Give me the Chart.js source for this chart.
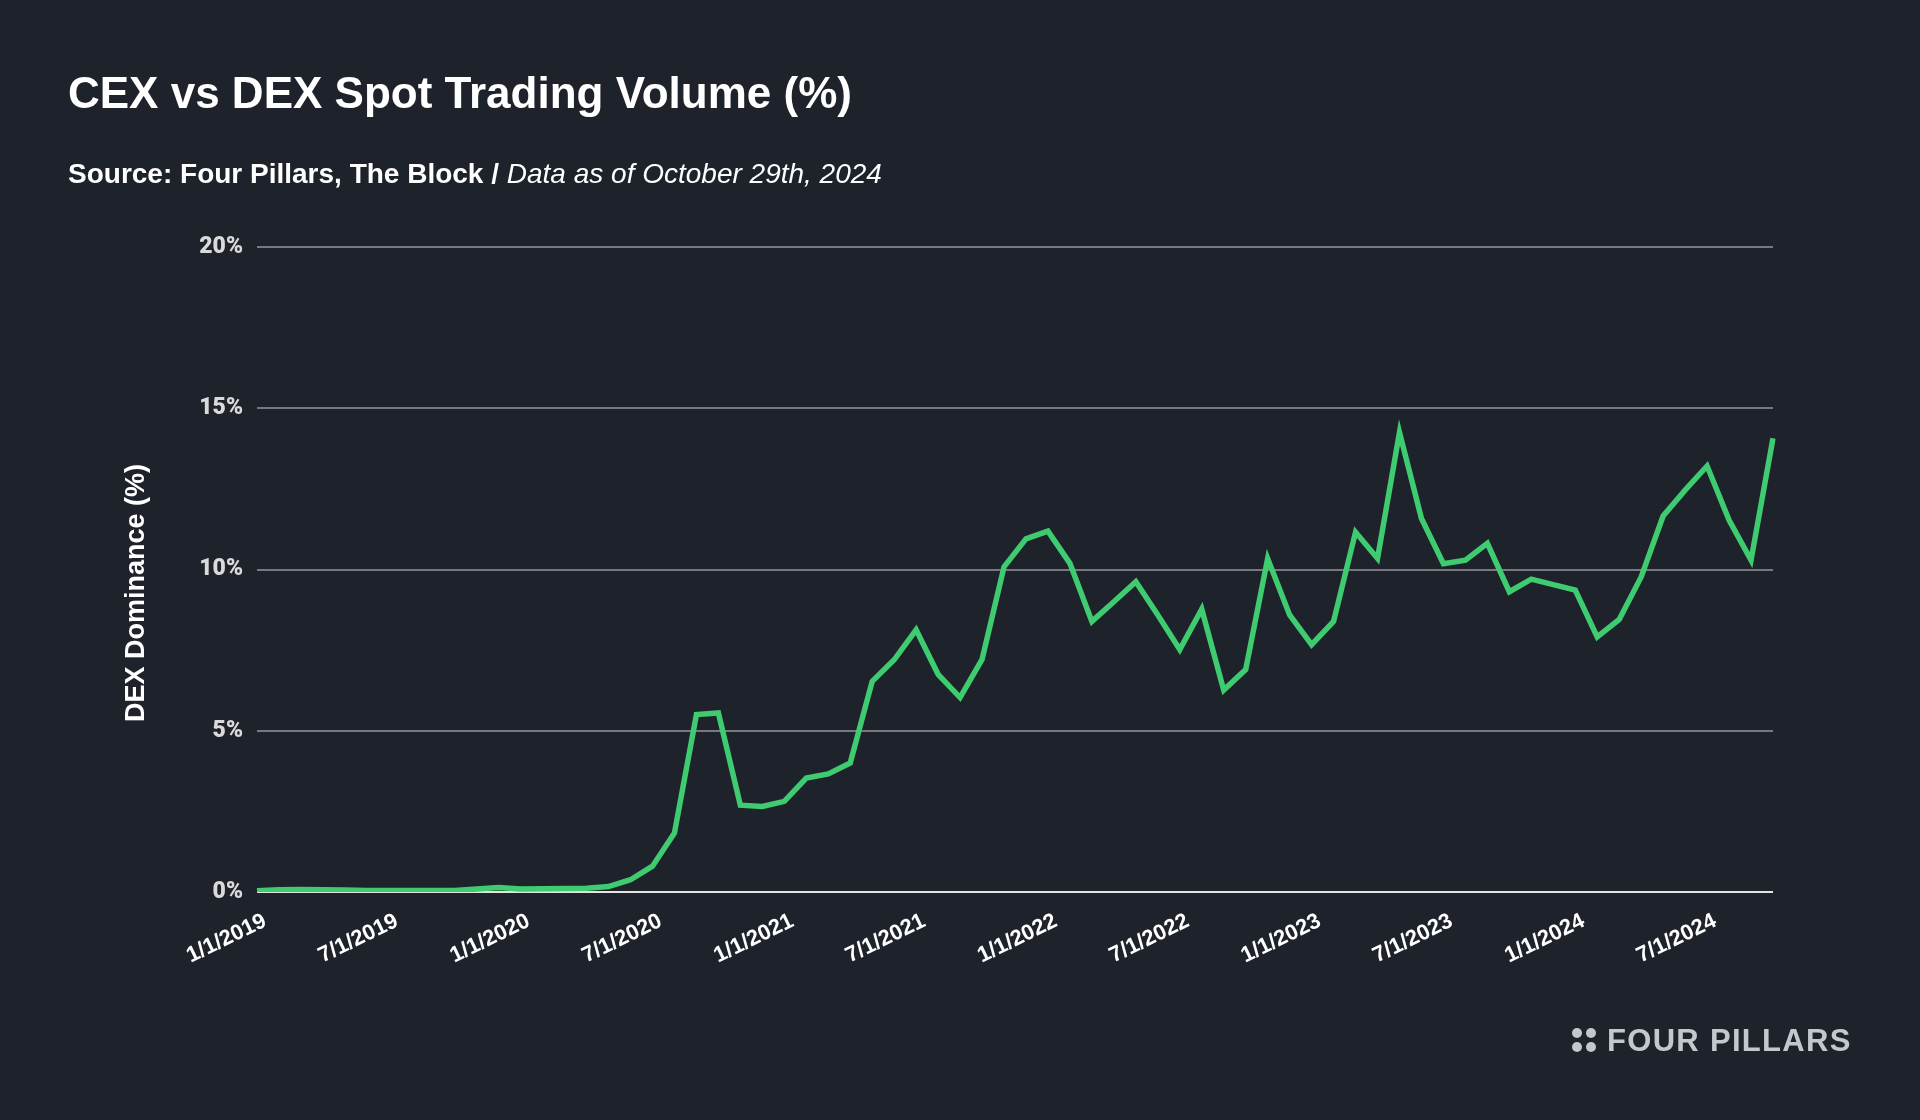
<!DOCTYPE html>
<html>
<head>
<meta charset="utf-8">
<script src="https://cdn.jsdelivr.net/npm/chart.js@4/dist/chart.umd.min.js"></script>
<style>
  html, body { margin: 0; padding: 0; background: #1e222b; }
  body { width: 1920px; height: 1120px; position: relative; overflow: hidden; font-family: "Liberation Sans", Arial, sans-serif; }
  #chart { position: absolute; left: 0; top: 0; }
  .title { position: absolute; left: 68px; top: 67px; color: #fff; font-weight: bold; font-size: 44px; line-height: 52px; white-space: nowrap; }
  .subtitle { position: absolute; left: 68px; top: 158px; color: #fff; font-size: 28px; line-height: 32px; white-space: nowrap; }
  .subtitle b { font-weight: bold; }
  .subtitle i { font-style: italic; }
  .logo { position: absolute; left: 1572px; top: 1021px; height: 40px; color: #c4c7cc; font-weight: bold; font-size: 31px; letter-spacing: 1.3px; line-height: 40px; white-space: nowrap; }
  .dots { position: absolute; left: 0; top: 7px; width: 25px; height: 25px; }
  .dots span { position: absolute; width: 10px; height: 10px; border-radius: 50%; background: #c4c7cc; }
  .logo .txt { position: absolute; left: 35px; top: 0; }
</style>
</head>
<body>
<canvas id="chart" width="1920" height="1120"></canvas>
<div class="title">CEX vs DEX Spot Trading Volume (%)</div>
<div class="subtitle"><b>Source: Four Pillars, The Block / </b><i>Data as of October 29th, 2024</i></div>
<div class="logo">
  <div class="dots">
    <span style="left:0;top:0"></span><span style="left:14px;top:0"></span>
    <span style="left:0;top:14px"></span><span style="left:14px;top:14px"></span>
  </div>
  <span class="txt">FOUR PILLARS</span>
</div>
<script>
// monthly DEX share of spot volume
const months = [
    '1/1/2019', '2/1/2019', '3/1/2019', '4/1/2019', '5/1/2019', '6/1/2019', '7/1/2019', '8/1/2019', '9/1/2019', '10/1/2019', '11/1/2019', '12/1/2019',
    '1/1/2020', '2/1/2020', '3/1/2020', '4/1/2020', '5/1/2020', '6/1/2020', '7/1/2020', '8/1/2020', '9/1/2020', '10/1/2020', '11/1/2020', '12/1/2020',
    '1/1/2021', '2/1/2021', '3/1/2021', '4/1/2021', '5/1/2021', '6/1/2021', '7/1/2021', '8/1/2021', '9/1/2021', '10/1/2021', '11/1/2021', '12/1/2021',
    '1/1/2022', '2/1/2022', '3/1/2022', '4/1/2022', '5/1/2022', '6/1/2022', '7/1/2022', '8/1/2022', '9/1/2022', '10/1/2022', '11/1/2022', '12/1/2022',
    '1/1/2023', '2/1/2023', '3/1/2023', '4/1/2023', '5/1/2023', '6/1/2023', '7/1/2023', '8/1/2023', '9/1/2023', '10/1/2023', '11/1/2023', '12/1/2023',
    '1/1/2024', '2/1/2024', '3/1/2024', '4/1/2024', '5/1/2024', '6/1/2024', '7/1/2024', '8/1/2024', '9/1/2024', '10/1/2024'
];

const dexDominance = [
    0.04, 0.07, 0.08, 0.07, 0.06, 0.05, 0.05, 0.05, 0.05, 0.05, 0.09, 0.14,
    0.09, 0.10, 0.11, 0.12, 0.17, 0.38, 0.80, 1.83, 5.50, 5.55, 2.69, 2.65,
    2.81, 3.53, 3.66, 4.00, 6.53, 7.20, 8.13, 6.75, 6.03, 7.21, 10.08, 10.95,
    11.19, 10.19, 8.39, 9.00, 9.62, 8.59, 7.52, 8.77, 6.26, 6.90, 10.34, 8.59,
    7.67, 8.39, 11.16, 10.34, 14.25, 11.58, 10.18, 10.29, 10.81, 9.31, 9.70, 9.53,
    9.36, 7.91, 8.45, 9.77, 11.66, 12.46, 13.21, 11.53, 10.29, 14.07
];

const xTickLabels = ['1/1/2019', '7/1/2019', '1/1/2020', '7/1/2020', '1/1/2021', '7/1/2021',
    '1/1/2022', '7/1/2022', '1/1/2023', '7/1/2023', '1/1/2024', '7/1/2024'];
const yTicks = [0, 5, 10, 15, 20];
const yTitle = 'DEX Dominance (%)';

// y-axis title sits a bit below the plot's middle in the original
const yTitlePlugin = {
    id: 'yTitle',
    afterDraw(chart) {
        const ctx = chart.ctx;
        ctx.save();
        ctx.translate(137, 593);
        ctx.rotate(-Math.PI / 2);
        ctx.fillStyle = '#ffffff';
        ctx.font = 'bold 27px "Liberation Sans", Arial, sans-serif';
        ctx.textAlign = 'center';
        ctx.textBaseline = 'middle';
        ctx.fillText(yTitle, 0, 0);
        ctx.restore();
    }
};

const ctx = document.getElementById('chart').getContext('2d');
new Chart(ctx, {
    type: 'line',
    data: {
        labels: months,
        datasets: [{
            label: yTitle,
            data: dexDominance,
            borderColor: '#3fcb70',
            borderWidth: 5.5,
            pointRadius: 0,
            tension: 0,
            fill: false
        }]
    },
    options: {
        responsive: false,
        devicePixelRatio: 1,
        animation: false,
        layout: { padding: { left: 0, right: 147, top: 247, bottom: 0 } },
        plugins: {
            legend: { display: false },
            tooltip: { enabled: false }
        },
        scales: {
            x: {
                offset: false,
                grid: { display: false },
                border: { display: false },
                afterFit(scale) { scale.height = 228; },
                ticks: {
                    autoSkip: false,
                    maxRotation: 26,
                    minRotation: 26,
                    padding: 8,
                    labelOffset: 8,
                    color: '#ffffff',
                    font: { family: '"Liberation Sans", Arial, sans-serif', weight: 'bold', size: 22 },
                    callback(value) {
                        const lbl = this.getLabelForValue(value);
                        return xTickLabels.includes(lbl) ? lbl : '';
                    }
                }
            },
            y: {
                min: 0,
                max: 20,
                afterFit(scale) { scale.width = 257; },
                afterBuildTicks(scale) { scale.ticks = yTicks.map(v => ({ value: v })); },
                border: { display: false },
                grid: {
                    drawTicks: false,
                    lineWidth: 2,
                    color: c => c.tick && c.tick.value === 0 ? '#e4e4e4' : '#767980'
                },
                ticks: {
                    padding: 14,
                    color: '#dadada',
                    font: { family: 'Roboto, "Liberation Sans", sans-serif', weight: 900, size: 23 },
                    callback: v => v + '%'
                }
            }
        }
    },
    plugins: [yTitlePlugin]
});
</script>
</body>
</html>
